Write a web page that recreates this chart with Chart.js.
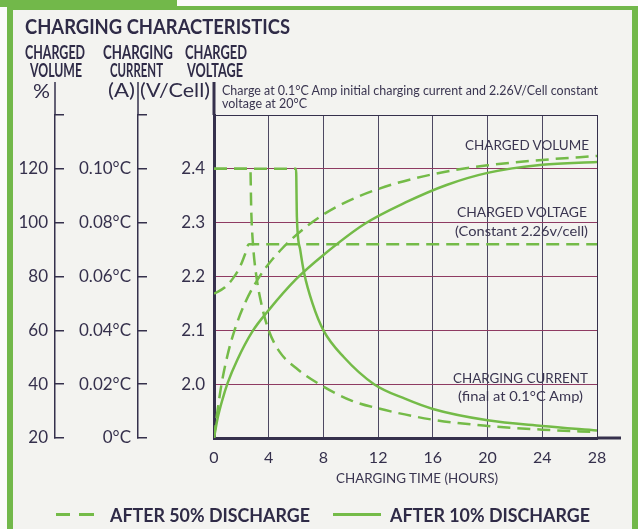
<!DOCTYPE html>
<html>
<head>
<meta charset="utf-8">
<title>Charging Characteristics</title>
<script src="https://cdn.jsdelivr.net/npm/chart.js@4"></script>
<style>
  body { margin: 0; width: 638px; height: 529px; overflow: hidden; position: relative; background: #fbfbf9; font-family: Lato, sans-serif; color: #2f2b47; }
  .tab { position: absolute; left: 0; top: 0; width: 177px; height: 7px; background: #72b84a; }
  .frame { position: absolute; left: 7px; top: 6px; width: 619px; height: 540px; border-style: solid; border-color: #72b84a; border-width: 4px 6px 0 6px; background: #f3f3f0; }
  .t { position: absolute; white-space: nowrap; line-height: 1; transform-origin: 0 0; z-index: 2; }
  .b { font-weight: bold; }
  .note { color: #3a3550; }
  .dash { position: absolute; top: 513px; height: 3px; background: #74bb48; }
  #myChart { position: absolute; left: 0; top: 0; z-index: 1; }
</style>
</head>
<body>
<div class="tab"></div>
<div class="frame"></div>

<div class="t b" style="left:25px;top:14.7px;font-size:21px" data-w="265">CHARGING CHARACTERISTICS</div>
<div class="t b" style="left:25px;top:41.7px;font-size:19.5px" data-w="60">CHARGED</div>
<div class="t b" style="left:30px;top:59.7px;font-size:19.5px" data-w="52">VOLUME</div>
<div class="t b" style="left:103px;top:41.7px;font-size:19.5px" data-w="70">CHARGING</div>
<div class="t b" style="left:110px;top:59.7px;font-size:19.5px" data-w="53">CURRENT</div>
<div class="t b" style="left:185px;top:41.7px;font-size:19.5px" data-w="62">CHARGED</div>
<div class="t b" style="left:187px;top:59.7px;font-size:19.5px" data-w="56">VOLTAGE</div>
<div class="t" style="left:33px;top:80px;font-size:20px" data-w="17">%</div>
<div class="t" style="left:108px;top:80px;font-size:19px" data-w="27">(A)</div>
<div class="t" style="left:140px;top:80px;font-size:19px" data-w="70">(V/Cell)</div>
<div class="t note" style="left:222px;top:84.8px;font-size:12.5px" data-w="376">Charge at 0.1°C Amp initial charging current and 2.26V/Cell constant</div>
<div class="t note" style="left:222px;top:97.8px;font-size:12.5px" data-w="85">voltage at 20°C</div>

<div class="t note" style="left:465px;top:137.6px;font-size:14px" data-w="124">CHARGED VOLUME</div>
<div class="t note" style="left:457px;top:204.6px;font-size:14px" data-w="130">CHARGED VOLTAGE</div>
<div class="t note" style="left:455px;top:223.6px;font-size:14px" data-w="133">(Constant 2.26v/cell)</div>
<div class="t note" style="left:453px;top:370.6px;font-size:14px" data-w="135">CHARGING CURRENT</div>
<div class="t note" style="left:458px;top:388.6px;font-size:14px" data-w="125">(final at 0.1°C Amp)</div>
<div class="t note" style="left:336px;top:472px;font-size:13px" data-w="162">CHARGING TIME (HOURS)</div>

<div class="dash" style="left:56px;width:14px"></div>
<div class="dash" style="left:79px;width:15px"></div>
<div class="t b" style="left:110px;top:504.7px;font-size:19.5px" data-w="200">AFTER 50% DISCHARGE</div>
<div class="dash" style="left:333px;width:48px"></div>
<div class="t b" style="left:390px;top:504.7px;font-size:19.5px" data-w="200">AFTER 10% DISCHARGE</div>

<canvas id="myChart" width="638" height="529"></canvas>

<script>
// axis ticks
const hourTicks = [0, 4, 8, 12, 16, 20, 24, 28];
const volumeTicks = [20, 40, 60, 80, 100, 120, 140];
const volumeLabels = ['20', '40', '60', '80', '100', '120', ''];
const currentTicks = [0, 0.02, 0.04, 0.06, 0.08, 0.10, 0.12];
const currentLabels = ['0°C', '0.02°C', '0.04°C', '0.06°C', '0.08°C', '0.10°C', ''];
const voltageTicks = [1.9, 2.0, 2.1, 2.2, 2.3, 2.4, 2.5];
const voltageLabels = ['', '2.0', '2.1', '2.2', '2.3', '2.4', ''];

// charged volume (%)
const volume50Hours = [0, 0.2, 0.55, 1.0, 1.5, 2.3, 3.4, 5, 7, 9, 12, 16, 20, 24, 28];
const volume50Pct = [20, 28, 40, 51, 60, 70.5, 80.5, 90.5, 99.5, 106, 112.5, 118, 121.3, 123.3, 124.8];
const volume10Hours = [0, 0.25, 0.6, 1, 1.7, 2.8, 4, 6, 8, 11, 14, 17, 20, 24, 28];
const volume10Pct = [20, 27, 34, 40.5, 49, 59.5, 67.5, 79, 88, 99.5, 107.5, 114, 118.5, 121.5, 122.5];

// charged voltage (V/cell)
const voltage50Hours = [0, 0.8, 1.4, 1.9, 2.25, 2.55, 28];
const voltage50Volts = [2.168, 2.18, 2.197, 2.218, 2.24, 2.26, 2.26];

// charging current (C amp)
const current50Hours = [0, 2.66, 2.72, 2.85, 3.1, 3.5, 4, 4.8, 6, 7.7, 10, 12, 16, 20, 24, 28];
const current50Amps = [0.1, 0.1, 0.085, 0.072, 0.06, 0.049, 0.04, 0.032, 0.026, 0.02, 0.014, 0.011, 0.0068, 0.0045, 0.0031, 0.0022];
const current10Hours = [0, 6.0, 6.06, 6.3, 6.6, 7.2, 8, 9.5, 11.7, 14, 16, 20, 24, 28];
const current10Amps = [0.1, 0.1, 0.082, 0.07, 0.061, 0.05, 0.04, 0.03, 0.02, 0.0145, 0.0108, 0.0066, 0.0045, 0.0028];

const green = '#74bb48';
const ink = '#35304c';
const dash = [13, 7];

Chart.defaults.font.family = 'Lato, sans-serif';
Chart.defaults.color = ink;

function line(label, hours, values, axis, dashed) {
  return {
    label: label,
    data: hours.map((h, i) => ({ x: h, y: values[i] })),
    yAxisID: axis,
    borderColor: green,
    borderWidth: 2.5,
    borderDash: dashed ? dash : [],
    pointRadius: 0,
    cubicInterpolationMode: 'monotone',
    fill: false
  };
}

function setTicks(values) {
  return scale => { scale.ticks = values.map(v => ({ value: v })); };
}

function sideAxis(width, weight, min, max, values, labels, stem) {
  return {
    type: 'linear', position: 'left', min: min, max: max, weight: weight,
    afterBuildTicks: setTicks(values),
    afterFit: s => { s.width = width; s.paddingTop = 0; s.paddingBottom = 0; },
    grid: { drawOnChartArea: false, color: ink, lineWidth: 1.5, tickLength: -9 },
    border: { color: ink, width: stem },
    ticks: { font: { size: 17 }, padding: 16, callback: (v, i) => labels[i] }
  };
}

// the left axis lines run up past the plot beside the unit labels,
// and the time axis runs on past 28 h
const axisStems = {
  id: 'axisStems',
  afterDraw(chart) {
    const { ctx, chartArea, scales } = chart;
    ctx.save();
    ctx.strokeStyle = ink;
    [['yVol', 1.5], ['yCur', 1.5], ['y', 3]].forEach(([id, w]) => {
      ctx.lineWidth = w;
      ctx.beginPath();
      ctx.moveTo(scales[id].right, 82);
      ctx.lineTo(scales[id].right, chartArea.top);
      ctx.stroke();
    });
    ctx.lineWidth = 3;
    ctx.beginPath();
    ctx.moveTo(chartArea.right, chartArea.bottom);
    ctx.lineTo(chartArea.right + 24, chartArea.bottom);
    ctx.stroke();
    ctx.restore();
  }
};

const current10 = line('Charging current, after 10% discharge', current10Hours, current10Amps, 'yCur', false);
// the constant-current stretch is printed dashed on the original
current10.segment = { borderDash: c => (c.p0.parsed.y >= 0.1 && c.p1.parsed.y >= 0.1) ? dash : undefined };

new Chart(document.getElementById('myChart'), {
  type: 'line',
  data: {
    datasets: [
      line('Charged volume, after 50% discharge', volume50Hours, volume50Pct, 'yVol', true),
      line('Charged volume, after 10% discharge', volume10Hours, volume10Pct, 'yVol', false),
      line('Charged voltage, after 50% discharge', voltage50Hours, voltage50Volts, 'y', true),
      line('Charging current, after 50% discharge', current50Hours, current50Amps, 'yCur', true),
      current10
    ]
  },
  options: {
    responsive: false,
    animation: false,
    devicePixelRatio: 1,
    layout: { padding: { left: 14, top: 115, right: 41, bottom: 0 } },
    plugins: { legend: { display: false }, tooltip: { enabled: false } },
    scales: {
      x: {
        type: 'linear', min: 0, max: 28,
        afterBuildTicks: setTicks(hourTicks),
        afterFit: s => { s.height = 91; s.paddingLeft = 0; s.paddingRight = 0; },
        grid: {
          color: c => c.tick.value === 0 ? 'rgba(0,0,0,0)' : (c.tick.value === 28 ? ink : '#4d4862'),
          lineWidth: 1, drawTicks: false
        },
        border: { color: ink, width: 3 },
        ticks: { font: { size: 16 }, padding: 10, maxRotation: 0 }
      },
      y: {
        type: 'linear', position: 'left', min: 1.9, max: 2.5, weight: 0,
        afterBuildTicks: setTicks(voltageTicks),
        afterFit: s => { s.width = 76; s.paddingTop = 0; s.paddingBottom = 0; },
        grid: {
          color: c => c.index === 0 ? 'rgba(0,0,0,0)' : (c.index === voltageTicks.length - 1 ? ink : '#8e3a62'),
          lineWidth: 1, drawTicks: false
        },
        border: { color: ink, width: 3 },
        ticks: { font: { size: 17 }, padding: 9, callback: (v, i) => voltageLabels[i] }
      },
      yCur: sideAxis(83, 1, 0, 0.12, currentTicks, currentLabels, 1.5),
      yVol: sideAxis(41, 2, 20, 140, volumeTicks, volumeLabels, 1.5)
    }
  },
  plugins: [axisStems]
});

// squeeze each text to the width it has on the original
function fitText() {
  document.querySelectorAll('[data-w]').forEach(el => {
    el.style.transform = 'none';
    const w = el.getBoundingClientRect().width;
    el.style.transform = 'scaleX(' + (el.dataset.w / w) + ')';
  });
}
fitText();
</script>
</body>
</html>
